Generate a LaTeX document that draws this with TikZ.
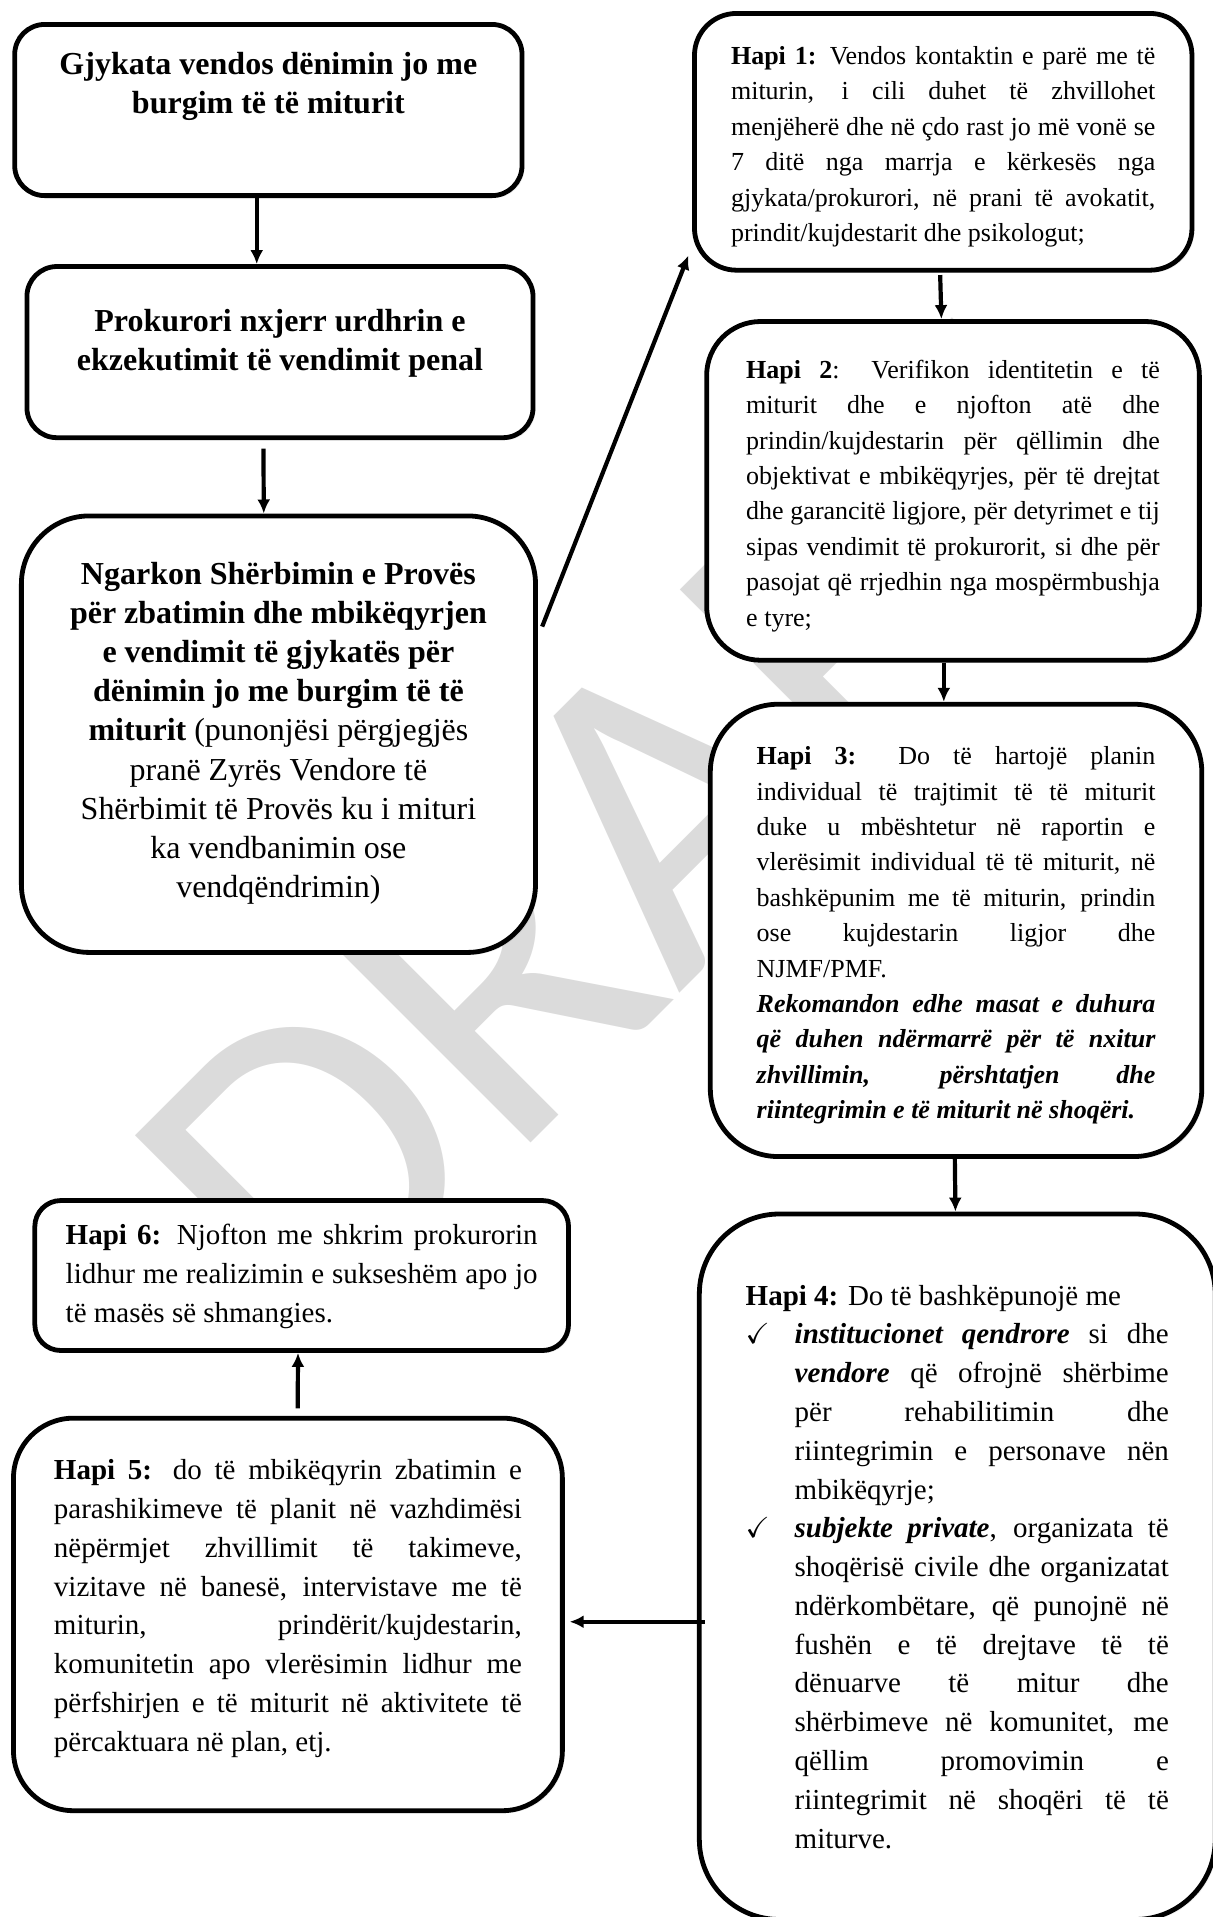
\documentclass[tikz,border=0pt]{standalone}
\usepackage{amssymb}
\usepackage{fontspec}
\setmainfont{Liberation Serif}
\newfontfamily\vulafont{Carlito}
\usetikzlibrary{calc,shadows,arrows.meta}
\setlength{\parindent}{0pt}
% a justified block of a given width, with optional space below it
\newcommand{\teksti}[3][0pt]{\begin{minipage}{#2}#3\par\vspace*{#1}\end{minipage}}

\begin{document}
\begin{tikzpicture}[x=0.6114pt, y=-0.6114pt,
    kuti/.style={draw, line width=2.4pt, fill=white, inner sep=0pt,
      drop shadow={opacity=0.15, shadow xshift=1.2pt, shadow yshift=-1.2pt}},
    gjyq/.style={kuti, font=\fontsize{16}{19.6}\selectfont},
    hapi/.style={kuti, font=\fontsize{13}{17.7}\selectfont},
    hapim/.style={kuti, font=\fontsize{14.5}{19.4}\selectfont},
    shigjeta/.style={line width=2.1pt, -{Latex[length=7pt,width=6.5pt]}}]
\useasboundingbox (0,0) rectangle (992,1568);
% the watermark comes first, the white boxes cover it
\node (vula) [rotate=45, text=black!14,
  font=\vulafont\fontsize{222}{222}\selectfont] at (520,684) {DRAFT};

% left column: court, prosecutor, probation service
\node (g1) [gjyq, rounded corners=15pt, minimum width=253.7pt, minimum height=85.6pt]
  at (219.5,90)
  {\teksti[23.8pt]{245pt}{\centering\bfseries Gjykata vendos dënimin jo me\\ burgim të të miturit}};
\node (g2) [gjyq, rounded corners=15pt, minimum width=253.1pt, minimum height=85.6pt]
  at (229,288)
  {\teksti[8.6pt]{245pt}{\centering\bfseries Prokurori nxjerr urdhrin e\\ ekzekutimit të vendimit penal}};
\node (g3) [gjyq, rounded corners=34pt, minimum width=257.1pt, minimum height=218.3pt]
  at (227.75,600.5)
  {\teksti[1pt]{240pt}{\centering\bfseries Ngarkon Shërbimin e Provës\\ për zbatimin dhe mbikëqyrjen\\
   e vendimit të gjykatës për\\ dënimin jo me burgim të të\\
   miturit \mdseries(punonjësi përgjegjës\\ pranë Zyrës Vendore të\\
   Shërbimit të Provës ku i mituri\\ ka vendbanimin ose\\ vendqëndrimin)}};

% right column: steps 1 to 4
\node (h1) [hapi, rounded corners=21pt, minimum width=248.8pt, minimum height=128.4pt]
  at (771.5,116)
  {\teksti[-5pt]{212.2pt}{\textbf{Hapi 1:} Vendos kontaktin e parë me të\linebreak
   miturin, i cili duhet të zhvillohet\linebreak
   menjëherë dhe në çdo rast jo më vonë se\linebreak
   7 ditë nga marrja e kërkesës nga\linebreak
   gjykata/prokurori, në prani të avokatit,\linebreak
   prindit/kujdestarit dhe psikologut;}};
\node (h2) [hapi, rounded corners=27pt, minimum width=246.4pt, minimum height=169.4pt]
  at (779.5,401.5)
  {\teksti[-5pt]{206.8pt}{\textbf{Hapi 2}: Verifikon identitetin e të\linebreak
   miturit dhe e njofton atë dhe\linebreak
   prindin/kujdestarin për qëllimin dhe\linebreak
   objektivat e mbikëqyrjes, për të drejtat\linebreak
   dhe garancitë ligjore, për detyrimet e tij\linebreak
   sipas vendimit të prokurorit, si dhe për\linebreak
   pasojat që rrjedhin nga mospërmbushja\linebreak
   e tyre;}};
\node (h3) [hapi, rounded corners=34pt, minimum width=245.8pt, minimum height=226.2pt]
  at (782,761)
  {\teksti[-5pt]{199.4pt}{\textbf{Hapi 3:} Do të hartojë planin\linebreak
   individual të trajtimit të të miturit\linebreak
   duke u mbështetur në raportin e\linebreak
   vlerësimit individual të të miturit, në\linebreak
   bashkëpunim me të miturin, prindin\linebreak
   ose kujdestarin ligjor dhe\linebreak
   NJMF/PMF.\par
   \bfseries\itshape Rekomandon edhe masat e duhura\linebreak
   që duhen ndërmarrë për të nxitur\linebreak
   zhvillimin, përshtatjen dhe\linebreak
   riintegrimin e të miturit në shoqëri.}};
\node (h4) [hapim, rounded corners=40pt, minimum width=258pt, minimum height=352.8pt]
  at (783,1281.5)
  {\teksti{211.6pt}{\textbf{Hapi 4:} Do të bashkëpunojë me\par
   \hangindent=24.5pt\hangafter=0\noindent\llap{\makebox[24.5pt][l]{$\checkmark$}}%
   \textbf{\textit{institucionet qendrore}} si dhe\linebreak
   \textbf{\textit{vendore}} që ofrojnë shërbime\linebreak
   për rehabilitimin dhe\linebreak
   riintegrimin e personave nën\linebreak
   mbikëqyrje;\par
   \hangindent=24.5pt\hangafter=0\noindent\llap{\makebox[24.5pt][l]{$\checkmark$}}%
   \textbf{\textit{subjekte private}}, organizata të\linebreak
   shoqërisë civile dhe organizatat\linebreak
   ndërkombëtare, që punojnë në\linebreak
   fushën e të drejtave të të\linebreak
   dënuarve të mitur dhe\linebreak
   shërbimeve në komunitet, me\linebreak
   qëllim promovimin e\linebreak
   riintegrimit në shoqëri të të\linebreak
   miturve.}};

% bottom left: steps 5 and 6
\node (h5) [hapim, rounded corners=30pt, minimum width=274.5pt, minimum height=196.3pt]
  at (235.5,1320.5)
  {\teksti[6pt]{234pt}{\textbf{Hapi 5:} do të mbikëqyrin zbatimin e\linebreak
   parashikimeve të planit në vazhdimësi\linebreak
   nëpërmjet zhvillimit të takimeve,\linebreak
   vizitave në banesë, intervistave me të\linebreak
   miturin, prindërit/kujdestarin,\linebreak
   komunitetin apo vlerësimin lidhur me\linebreak
   përfshirjen e të miturit në aktivitete të\linebreak
   përcaktuara në plan, etj.}};
\node (h6) [hapim, rounded corners=13pt, minimum width=266.9pt, minimum height=75pt]
  at (246.75,1043.3)
  {\teksti[-1pt]{236pt}{\textbf{Hapi 6:} Njofton me shkrim prokurorin\linebreak
   lidhur me realizimin e sukseshëm apo jo\linebreak
   të masës së shmangies.}};

% arrows between the boxes
\draw[shigjeta] ($(g1.south)+(-9.5,0)$) -- ($(g2.north)+(-19,0)$);
\draw[shigjeta] ($(g2.south)+(-13.5,7)$) -- ($(g3.north)+(-12,0)$);
\draw[shigjeta] ($(g3.east)+(3.5,-88)$) -- ($(h1.south west)+(-3,-14)$);
\draw[shigjeta] ($(h1.south)+(-2.5,2)$) -- ($(h2.north)+(-9.5,0)$);
\draw[shigjeta] ($(h2.south)+(-7.5,0)$) -- ($(h3.north)+(-10,0)$);
\draw[shigjeta] ($(h3.south)+(-1,0)$) -- ($(h4.north)+(-1.5,0)$);
\draw[shigjeta] ($(h4.west)+(6.5,45)$) -- ($(h5.east)+(4,6)$);
\draw[shigjeta] ($(h5.north)+(8,-6)$) -- ($(h6.south)+(-3,0)$);
\end{tikzpicture}
\end{document}
